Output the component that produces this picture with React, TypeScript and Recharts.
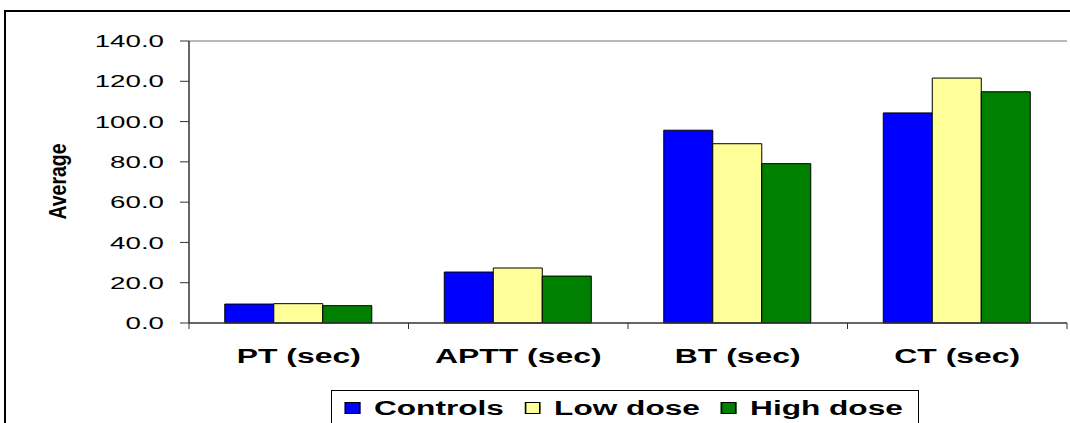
import React from "react";
import { BarChart, Bar, XAxis, YAxis, ReferenceLine, Legend } from "recharts";

const categories = ["PT (sec)", "APTT (sec)", "BT (sec)", "CT (sec)"];
const controls = [9.4, 25.3, 95.7, 104.3];
const lowDose = [9.6, 27.3, 89.0, 121.6];
const highDose = [8.6, 23.3, 79.1, 114.8];
const yTicks = [0, 20, 40, 60, 80, 100, 120, 140];

const series = [
  { key: "controls", name: "Controls", color: "#0000FF" },
  { key: "lowDose", name: "Low dose", color: "#FFFF99" },
  { key: "highDose", name: "High dose", color: "#008000" },
];

const data = categories.map((c, i) => ({
  category: c,
  controls: controls[i],
  lowDose: lowDose[i],
  highDose: highDose[i],
}));

const FONT = "'Liberation Sans', Arial, sans-serif";

const YTick = (props: any) => {
  const { x, y, payload } = props;
  return (
    <text
      transform={`translate(${x},${y}) scale(1.63,1)`}
      textAnchor="end"
      dy="0.36em"
      fontSize={17}
      fontFamily={FONT}
      fill="#000"
    >
      {Number(payload.value).toFixed(1)}
    </text>
  );
};

const XTick = (props: any) => {
  const { x, y, payload, index } = props;
  const half = payload.offset || 109.75;
  return (
    <g>
      <line x1={x - half} y1={y} x2={x - half} y2={y + 6} stroke="#333" />
      {index === categories.length - 1 && (
        <line x1={x + half} y1={y} x2={x + half} y2={y + 6} stroke="#333" />
      )}
      <text
        transform={`translate(${x},${y + 40}) scale(1.52,1)`}
        textAnchor="middle"
        fontSize={21}
        fontWeight="bold"
        fontFamily={FONT}
        fill="#000"
      >
        {payload.value}
      </text>
    </g>
  );
};

const YLabel = () => (
  <text
    transform="translate(66,181.5) scale(1.27,1) rotate(-90)"
    textAnchor="middle"
    fontSize={19.5}
    fontWeight="bold"
    fontFamily={FONT}
    fill="#000"
  >
    Average
  </text>
);

const LegendBox = () => (
  <div
    style={{
      border: "1px solid #000",
      height: 60,
      boxSizing: "border-box",
      paddingTop: 7,
      background: "#fff",
    }}
  >
    <div
      style={{
        display: "flex",
        alignItems: "center",
        transform: "scaleX(1.58)",
        transformOrigin: "left center",
        paddingLeft: 7.6,
        fontFamily: FONT,
        fontWeight: "bold",
        fontSize: 20,
        lineHeight: "20px",
        whiteSpace: "nowrap",
      }}
    >
      {series.map((s) => (
        <React.Fragment key={s.key}>
          <span
            style={{
              display: "inline-block",
              width: 10.8,
              height: 12,
              boxSizing: "border-box",
              border: "1px solid #000",
              background: s.color,
              marginRight: 8.2,
            }}
          />
          <span style={{ marginRight: 12.8 }}>{s.name}</span>
        </React.Fragment>
      ))}
    </div>
  </div>
);

export default function App() {
  return (
    <div
      style={{
        position: "absolute",
        left: 0,
        top: 0,
        width: 1070,
        height: 423,
        overflow: "hidden",
        background: "#fff",
      }}
    >
      <div
        style={{
          position: "absolute",
          left: 4,
          top: 10,
          width: 1200,
          height: 600,
          borderTop: "2px solid #000",
          borderLeft: "2px solid #000",
        }}
      />
      <BarChart
        width={1070}
        height={423}
        data={data}
        margin={{ top: 41, right: 3, bottom: 0, left: 0 }}
        barCategoryGap="16.3%"
        barGap={0}
      >
        <XAxis
          dataKey="category"
          height={100}
          tickSize={0}
          tickMargin={0}
          tickLine={false}
          axisLine={{ stroke: "#333", strokeWidth: 1.5 }}
          tick={<XTick />}
          interval={0}
        />
        <YAxis
          yAxisId="left"
          width={189}
          domain={[0, 140]}
          ticks={yTicks}
          tickSize={9}
          tickMargin={16}
          tickLine={{ stroke: "#333" }}
          axisLine={{ stroke: "#333", strokeWidth: 1.5 }}
          tick={<YTick />}
          label={() => <YLabel />}
        />
        <YAxis
          yAxisId="right"
          orientation="right"
          width={0}
          domain={[0, 140]}
          tick={false}
          tickLine={false}
          axisLine={{ stroke: "#a0a0a0", strokeWidth: 1.5 }}
        />
        <ReferenceLine yAxisId="left" y={140} stroke="#a0a0a0" strokeWidth={1.5} />
        {series.map((s) => (
          <Bar
            key={s.key}
            yAxisId="left"
            dataKey={s.key}
            name={s.name}
            fill={s.color}
            stroke="#000"
            strokeWidth={1}
            isAnimationActive={false}
          />
        ))}
        <Legend
          layout="horizontal"
          verticalAlign="middle"
          align="center"
          content={<LegendBox />}
          wrapperStyle={{ position: "absolute", left: 331, top: 390, width: 588, height: 60 }}
        />
      </BarChart>
    </div>
  );
}
